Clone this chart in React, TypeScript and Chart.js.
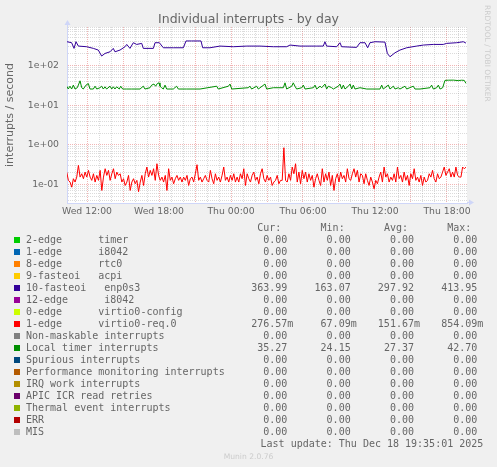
import React, { useEffect, useRef } from 'react';
import { Chart, registerables } from 'chart.js';

Chart.register(...registerables);

// ---- axis ranges (hours since Wed 00:00) ----
const X_MIN = 10.333;
const X_MAX = 43.667;
const Y_MIN = 0.0348;
const Y_MAX = 924;

const xTickHours = [12, 18, 24, 30, 36, 42];
const xTickLabels = ['Wed 12:00', 'Wed 18:00', 'Thu 00:00', 'Thu 06:00', 'Thu 12:00', 'Thu 18:00'];
const yTickValues = [0.1, 1, 10, 100];
const yTickLabels = ['1e-01', '1e+00', '1e+01', '1e+02'];

// ---- 10-fasteoi enp0s3 ----
const enpHours = [10.33, 10.72, 10.92, 11.08, 11.28, 11.97, 12.53, 12.94, 13.22, 13.5, 13.92, 14.19, 14.33, 14.75, 15.17, 15.31, 15.58, 15.86, 16.14, 16.56, 16.69, 17.53, 17.67, 18.03, 18.36, 19.19, 20.03, 20.25, 20.72, 21.5, 21.64, 22.25, 23.08, 24.19, 25.31, 26.42, 27.53, 28.64, 28.92, 29.75, 31.14, 31.69, 31.83, 31.97, 32.81, 33.08, 33.22, 34.47, 34.75, 35.17, 35.39, 35.58, 36.0, 36.83, 37.03, 37.25, 37.67, 38.08, 38.64, 39.47, 40.03, 40.86, 41.69, 41.97, 42.81, 43.36, 43.58];
const enpValues = [394, 372, 268, 394, 306, 295, 268, 243, 172, 200, 220, 268, 220, 243, 295, 337, 268, 372, 337, 358, 268, 268, 372, 372, 278, 278, 278, 412, 412, 412, 278, 278, 306, 295, 306, 306, 295, 295, 325, 306, 306, 306, 394, 306, 295, 372, 295, 284, 372, 372, 278, 372, 394, 386, 200, 165, 208, 243, 278, 306, 325, 337, 337, 358, 372, 394, 364];

// ---- Local timer interrupts ----
const timerHours = [10.31, 10.44, 10.58, 10.72, 10.86, 11.0, 11.19, 11.42, 11.56, 11.69, 11.92, 12.11, 12.25, 12.53, 12.67, 12.81, 13.08, 13.22, 13.36, 13.5, 13.64, 13.92, 14.06, 14.19, 14.33, 14.47, 14.69, 14.81, 14.97, 15.31, 15.72, 16.42, 16.69, 16.83, 17.25, 17.39, 17.58, 17.72, 17.86, 18.0, 18.08, 18.22, 18.36, 18.5, 18.64, 19.19, 19.47, 19.61, 20.31, 21.42, 22.81, 22.94, 23.78, 23.92, 24.06, 25.44, 25.58, 25.72, 26.14, 26.28, 26.83, 26.97, 27.53, 28.36, 28.5, 28.64, 29.06, 29.19, 29.33, 29.47, 29.89, 30.03, 30.17, 30.86, 31.0, 31.14, 31.42, 31.56, 31.83, 31.97, 32.11, 32.39, 32.53, 32.94, 33.08, 33.22, 33.36, 33.5, 33.78, 33.92, 34.06, 34.19, 34.33, 34.75, 35.31, 36.42, 36.56, 36.69, 37.11, 37.25, 37.53, 37.67, 37.94, 38.08, 38.5, 38.64, 39.19, 39.33, 39.75, 40.58, 40.72, 40.86, 41.14, 41.28, 41.42, 41.64, 41.83, 42.11, 42.53, 42.94, 43.22, 43.44, 43.58];
const timerValues = [30, 25.5, 30, 25.5, 32, 25.5, 27.5, 41, 27.5, 25.5, 32, 35, 25.5, 25.5, 30, 25.5, 27.5, 30, 25.5, 29, 25.5, 30, 25.5, 29, 25.5, 29, 25.5, 30, 25.5, 25.5, 25.5, 25.5, 30, 25.5, 27.5, 32, 34, 30, 35, 36.5, 30, 27.5, 25.5, 32, 25.5, 25.5, 30, 25.5, 25.5, 25.5, 30, 25.5, 30, 34, 25.5, 27.5, 30, 25.5, 30, 25.5, 34, 25.5, 27.5, 27.5, 36.5, 25.5, 30, 36.5, 30, 25.5, 27.5, 32, 25.5, 27.5, 32, 25.5, 30, 27.5, 34, 25.5, 30, 27.5, 25.5, 30, 34, 25.5, 32, 25.5, 30, 34, 25.5, 32, 25.5, 27.5, 25.5, 25.5, 32, 25.5, 32, 25.5, 30, 25.5, 27.5, 25.5, 30, 25.5, 30, 25.5, 25.5, 27.5, 32, 25.5, 27.5, 32, 25.5, 27.5, 42, 42.5, 42.7, 41.5, 42.5, 42, 35.3];

// ---- 1-edge virtio0-req.0 (regular 5-min-ish samples) ----
const virtioStartHour = 10.31;
const virtioEndHour = 43.58;
const virtioValues = [
  0.208, 0.129, 0.117, 0.087, 0.142, 0.117, 0.156, 0.307, 0.156, 0.189,
  0.142, 0.208, 0.156, 0.230, 0.156, 0.129, 0.189, 0.117, 0.172, 0.129,
  0.230, 0.072, 0.156, 0.253, 0.172, 0.230, 0.129, 0.189, 0.253, 0.142,
  0.208, 0.172, 0.189, 0.117, 0.142, 0.096, 0.117, 0.172, 0.072, 0.117,
  0.142, 0.106, 0.129, 0.067, 0.117, 0.172, 0.096, 0.189, 0.279, 0.156,
  0.230, 0.172, 0.253, 0.129, 0.338, 0.172, 0.129, 0.156, 0.117, 0.172,
  0.072, 0.253, 0.129, 0.156, 0.106, 0.142, 0.172, 0.129, 0.156, 0.117,
  0.156, 0.129, 0.172, 0.096, 0.142, 0.156, 0.117, 0.189, 0.319, 0.129,
  0.156, 0.117, 0.142, 0.172, 0.129, 0.117, 0.230, 0.142, 0.106, 0.189,
  0.129, 0.156, 0.117, 0.172, 0.279, 0.129, 0.156, 0.117, 0.172, 0.129,
  0.189, 0.117, 0.156, 0.117, 0.189, 0.142, 0.253, 0.096, 0.189, 0.142,
  0.117, 0.172, 0.208, 0.129, 0.156, 0.106, 0.189, 0.253, 0.142, 0.117,
  0.172, 0.129, 0.156, 0.096, 0.117, 0.129, 0.172, 0.106, 0.129, 0.129,
  0.854,
  0.129, 0.117, 0.189, 0.129, 0.279, 0.189, 0.338, 0.117, 0.208, 0.106,
  0.230, 0.142, 0.208, 0.117, 0.189, 0.129, 0.172, 0.087, 0.142, 0.189,
  0.129, 0.096, 0.253, 0.117, 0.189, 0.129, 0.208, 0.096, 0.172, 0.072,
  0.142, 0.189, 0.117, 0.208, 0.142, 0.172, 0.117, 0.253, 0.142, 0.129,
  0.189, 0.253, 0.156, 0.230, 0.117, 0.189, 0.172, 0.106, 0.189, 0.129,
  0.096, 0.156, 0.117, 0.079, 0.129, 0.106, 0.156, 0.208, 0.117, 0.279,
  0.156, 0.189, 0.117, 0.156, 0.129, 0.189, 0.117, 0.279, 0.142, 0.172,
  0.117, 0.208, 0.129, 0.172, 0.096, 0.189, 0.142, 0.253, 0.129, 0.156,
  0.117, 0.172, 0.096, 0.156, 0.117, 0.129, 0.189, 0.156, 0.230, 0.142,
  0.117, 0.189, 0.142, 0.156, 0.208, 0.279, 0.172, 0.208, 0.253, 0.156,
  0.208, 0.156, 0.279, 0.172, 0.156, 0.156, 0.279, 0.253, 0.277,
];

// ---- legend table ----
const legendNames = [
  '2-edge      timer',
  '1-edge      i8042',
  '8-edge      rtc0',
  '9-fasteoi   acpi',
  '10-fasteoi   enp0s3',
  '12-edge      i8042',
  '0-edge      virtio0-config',
  '1-edge      virtio0-req.0',
  'Non-maskable interrupts',
  'Local timer interrupts',
  'Spurious interrupts',
  'Performance monitoring interrupts',
  'IRQ work interrupts',
  'APIC ICR read retries',
  'Thermal event interrupts',
  'ERR',
  'MIS',
];
const legendColors = ['#00CC00', '#0066B3', '#FF8000', '#FFCC00', '#330099', '#990099', '#CCFF00', '#FF0000', '#808080', '#008F00', '#00487D', '#B35A00', '#B38F00', '#6B006B', '#8FB300', '#B30000', '#BEBEBE'];
const curValues = ['0.00 ', '0.00 ', '0.00 ', '0.00 ', '363.99 ', '0.00 ', '0.00 ', '276.57m', '0.00 ', '35.27 ', '0.00 ', '0.00 ', '0.00 ', '0.00 ', '0.00 ', '0.00 ', '0.00 '];
const minValues = ['0.00 ', '0.00 ', '0.00 ', '0.00 ', '163.07 ', '0.00 ', '0.00 ', '67.09m', '0.00 ', '24.15 ', '0.00 ', '0.00 ', '0.00 ', '0.00 ', '0.00 ', '0.00 ', '0.00 '];
const avgValues = ['0.00 ', '0.00 ', '0.00 ', '0.00 ', '297.92 ', '0.00 ', '0.00 ', '151.67m', '0.00 ', '27.37 ', '0.00 ', '0.00 ', '0.00 ', '0.00 ', '0.00 ', '0.00 ', '0.00 '];
const maxValues = ['0.00 ', '0.00 ', '0.00 ', '0.00 ', '413.95 ', '0.00 ', '0.00 ', '854.09m', '0.00 ', '42.70 ', '0.00 ', '0.00 ', '0.00 ', '0.00 ', '0.00 ', '0.00 ', '0.00 '];
const columnHeaders = ['Cur:  ', 'Min:  ', 'Avg:  ', 'Max:  '];

const TEXT = '#666666';
const AXIS = '#CFD6F8';
const MAJOR_GRID = 'rgba(222,79,79,0.42)';
const MINOR_GRID = 'rgba(143,143,143,0.32)';

const isDecade = (v: number) => Math.abs(Math.log10(v) - Math.round(Math.log10(v))) < 1e-6;

const yGrid: number[] = [];
for (let e = -2; e <= 2; e++) {
  for (let m = 1; m <= 9; m++) {
    const v = Number((m * Math.pow(10, e)).toPrecision(6));
    if (v > Y_MIN && v < Y_MAX) yGrid.push(v);
  }
}
const xGrid: number[] = [];
for (let h = Math.ceil(X_MIN); h <= Math.floor(X_MAX); h++) xGrid.push(h);

const decorPlugin = {
  id: 'muninDecor',
  beforeDraw(chart: any) {
    const { ctx, chartArea: a } = chart;
    ctx.save();
    ctx.fillStyle = '#FFFFFF';
    ctx.fillRect(a.left, a.top, a.right - a.left, a.bottom - a.top);
    ctx.restore();
  },
  afterDraw(chart: any) {
    const { ctx, chartArea: a, width } = chart;
    ctx.save();
    // title
    ctx.fillStyle = TEXT;
    ctx.font = '12.5px "DejaVu Sans"';
    ctx.textAlign = 'center';
    ctx.textBaseline = 'alphabetic';
    ctx.fillText('Individual interrupts - by day', width / 2, 23);
    // watermark
    ctx.save();
    ctx.translate(484, 5);
    ctx.rotate(Math.PI / 2);
    ctx.fillStyle = '#CCCCCC';
    ctx.font = '7.5px "DejaVu Sans"';
    ctx.textAlign = 'left';
    ctx.textBaseline = 'middle';
    ctx.fillText('RRDTOOL / TOBI OETIKER', 0, -3);
    ctx.restore();
    // axis extensions and arrows
    ctx.strokeStyle = AXIS;
    ctx.fillStyle = AXIS;
    ctx.lineWidth = 1;
    const lx = Math.round(a.left) + 0.5;
    const by = Math.round(a.bottom) - 0.5;
    ctx.beginPath();
    ctx.moveTo(lx, a.top);
    ctx.lineTo(lx, a.top - 4);
    ctx.moveTo(a.right, by);
    ctx.lineTo(a.right + 3, by);
    ctx.stroke();
    ctx.beginPath();
    ctx.moveTo(lx, a.top - 7);
    ctx.lineTo(lx - 3, a.top - 2);
    ctx.lineTo(lx + 3, a.top - 2);
    ctx.closePath();
    ctx.fill();
    ctx.beginPath();
    ctx.moveTo(a.right + 7, by);
    ctx.lineTo(a.right + 2, by - 3);
    ctx.lineTo(a.right + 2, by + 3);
    ctx.closePath();
    ctx.fill();
    ctx.restore();
  },
};

function MuninChart() {
  const ref = useRef<HTMLCanvasElement>(null);
  useEffect(() => {
    if (!ref.current) return;
    const step = (virtioEndHour - virtioStartHour) / (virtioValues.length - 1);
    const virtioData = virtioValues.map((v, i) => ({ x: virtioStartHour + i * step, y: v }));
    const enpData = enpValues.map((v, i) => ({ x: enpHours[i], y: v }));
    const timerData = timerValues.map((v, i) => ({ x: timerHours[i], y: v }));
    const tickFont = { family: 'DejaVu Sans', size: 9.3 };
    const chart = new Chart(ref.current, {
      type: 'line',
      data: {
        datasets: [
          { label: '10-fasteoi enp0s3', data: enpData, borderColor: '#330099', borderWidth: 1, pointRadius: 0, tension: 0 },
          { label: '1-edge virtio0-req.0', data: virtioData, borderColor: '#FF0000', borderWidth: 1, pointRadius: 0, tension: 0 },
          { label: 'Local timer interrupts', data: timerData, borderColor: '#008F00', borderWidth: 1, pointRadius: 0, tension: 0 },
        ],
      },
      options: {
        animation: false,
        responsive: false,
        parsing: false as any,
        normalized: true,
        layout: { padding: { top: 27, right: 30, bottom: 244, left: 0 } },
        plugins: { legend: { display: false }, tooltip: { enabled: false }, title: { display: false } },
        scales: {
          x: {
            type: 'linear',
            min: X_MIN,
            max: X_MAX,
            afterBuildTicks: (s: any) => { s.ticks = xGrid.map((v) => ({ value: v })); },
            afterFit: (s: any) => { s.height = 20; },
            ticks: {
              autoSkip: false,
              maxRotation: 0,
              padding: 3,
              color: TEXT,
              font: tickFont,
              callback: (v: any) => {
                const i = xTickHours.indexOf(Math.round(Number(v)));
                return i >= 0 && Math.abs(Number(v) - xTickHours[i]) < 1e-6 ? xTickLabels[i] : '';
              },
            },
            grid: {
              drawTicks: false,
              lineWidth: 1,
              color: (c: any) => (c.tick && Math.round(c.tick.value) % 3 === 0 ? MAJOR_GRID : MINOR_GRID),
            },
            border: { color: AXIS, width: 1, dash: [1, 1] },
          },
          y: {
            type: 'logarithmic',
            min: Y_MIN,
            max: Y_MAX,
            afterBuildTicks: (s: any) => { s.ticks = yGrid.map((v) => ({ value: v })); },
            afterFit: (s: any) => { s.width = 67; },
            ticks: {
              autoSkip: false,
              padding: 8,
              color: TEXT,
              font: tickFont,
              callback: (v: any) => {
                const n = Number(v);
                const i = yTickValues.findIndex((t) => Math.abs(t - n) / t < 1e-6);
                return i >= 0 ? yTickLabels[i] : '';
              },
            },
            grid: {
              drawTicks: false,
              lineWidth: 1,
              color: (c: any) => (c.tick && isDecade(c.tick.value) ? MAJOR_GRID : MINOR_GRID),
            },
            border: { color: AXIS, width: 1, dash: [1, 1] },
            title: {
              display: true,
              text: 'interrupts / second',
              color: TEXT,
              font: { family: 'DejaVu Sans', size: 11 },
              padding: { top: 4, bottom: 0 },
            },
          },
        },
      },
      plugins: [decorPlugin],
    } as any);
    return () => chart.destroy();
  }, []);
  return <canvas ref={ref} width={497} height={467} style={{ position: 'absolute', left: 0, top: 0, width: 497, height: 467 }} />;
}

export default function App() {
  const colRight = [293.3, 356.7, 420, 483.3];
  const columns = [curValues, minValues, avgValues, maxValues];
  const rowCenter = (i: number) => 239.3 + 12 * i;
  const mono: React.CSSProperties = {
    position: 'absolute',
    fontFamily: '"DejaVu Sans Mono", monospace',
    fontSize: 10,
    lineHeight: '12px',
    whiteSpace: 'pre',
    color: TEXT,
  };
  return (
    <div style={{ position: 'absolute', left: 0, top: 0, width: 497, height: 467, background: '#F0F0F0', overflow: 'hidden' }}>
      <MuninChart />
      {columnHeaders.map((h, c) => (
        <div key={'h' + c} style={{ ...mono, top: 227.3 - 5.8, right: 497 - colRight[c], textAlign: 'right' }}>{h}</div>
      ))}
      {legendNames.map((name, i) => (
        <React.Fragment key={name + i}>
          <div style={{ position: 'absolute', left: 14, top: rowCenter(i) - 2.5, width: 6, height: 6, background: legendColors[i] }} />
          <div style={{ ...mono, left: 26, top: rowCenter(i) - 5.8 }}>{name}</div>
          {columns.map((col, c) => (
            <div key={c} style={{ ...mono, top: rowCenter(i) - 5.8, right: 497 - colRight[c], textAlign: 'right' }}>{col[i]}</div>
          ))}
        </React.Fragment>
      ))}
      <div style={{ ...mono, top: 443.3 - 5.8, right: 497 - 483.3, textAlign: 'right' }}>Last update: Thu Dec 18 19:35:01 2025</div>
      <div style={{ position: 'absolute', left: 0, width: 497, top: 452, textAlign: 'center', fontFamily: '"DejaVu Sans", sans-serif', fontSize: 7.6, lineHeight: '9px', color: '#CCCCCC' }}>Munin 2.0.76</div>
    </div>
  );
}
